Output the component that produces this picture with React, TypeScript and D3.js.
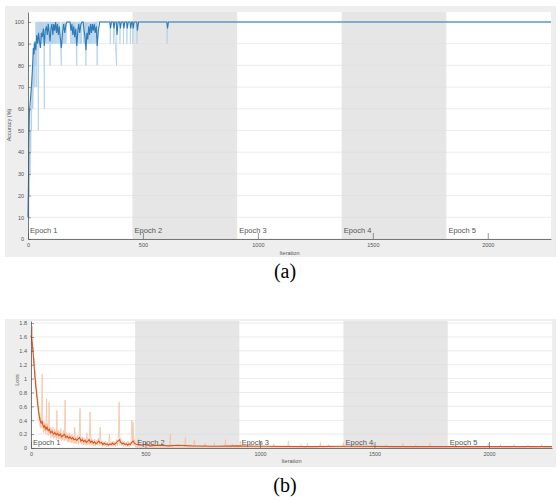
import React, { useEffect, useRef } from 'react';
import * as d3 from 'd3';

// Training progress: 5 epochs of 455 iterations each
const epochs = ['Epoch 1', 'Epoch 2', 'Epoch 3', 'Epoch 4', 'Epoch 5'];
const itersPerEpoch = 455;
const maxIter = 2275;
const iterTicks = [0, 500, 1000, 1500, 2000];
const accTicks = [0, 10, 20, 30, 40, 50, 60, 70, 80, 90, 100];
const lossTicks = [0, 0.2, 0.4, 0.6, 0.8, 1, 1.2, 1.4, 1.6, 1.8];

// mini-batch accuracy (%), [iteration, value]
const accRaw: [number, number][] = [
  [0, 10], [2, 20], [3, 10], [5, 30], [6, 20], [8, 40], [9, 30], [11, 50], [12, 40], [14, 60],
  [15, 50], [17, 70], [18, 60], [20, 80], [21, 60], [23, 70], [24, 90], [26, 70], [27, 80], [29, 90],
  [30, 70], [32, 90], [33, 80], [35, 100], [36, 90], [38, 70], [39, 100], [41, 90], [43, 100], [45, 50],
  [47, 100], [49, 90], [51, 100], [53, 90], [55, 100], [57, 90], [59, 100], [61, 90], [63, 100], [65, 90],
  [67, 100], [69, 90], [71, 60], [73, 100], [75, 90], [77, 100], [79, 90], [81, 100], [83, 90], [85, 100],
  [87, 90], [89, 100], [91, 90], [93, 100], [96, 80], [98, 100], [100, 90], [102, 100], [104, 90], [106, 100],
  [108, 90], [110, 100], [112, 90], [114, 100], [117, 90], [119, 100], [121, 90], [123, 100], [126, 90], [128, 100],
  [131, 90], [133, 100], [136, 90], [138, 100], [141, 90], [145, 80], [148, 100], [150, 90], [153, 100], [155, 90],
  [158, 100], [160, 90], [163, 100], [165, 90], [168, 100], [183, 100], [186, 90], [188, 100], [191, 90], [193, 100],
  [196, 90], [198, 100], [201, 90], [203, 100], [206, 90], [208, 100], [212, 80], [214, 100], [217, 90], [219, 100],
  [222, 90], [224, 100], [228, 90], [230, 100], [233, 90], [235, 100], [240, 100], [243, 90], [245, 100], [248, 90],
  [250, 100], [252, 80], [254, 100], [257, 90], [259, 100], [262, 90], [264, 100], [267, 90], [269, 100], [272, 90],
  [274, 100], [277, 90], [279, 100], [282, 90], [284, 100], [287, 90], [289, 100], [292, 90], [294, 100], [296, 90],
  [298, 100], [301, 80], [303, 100], [357, 100], [358, 90], [360, 100], [371, 100], [372, 90], [374, 100], [385, 80],
  [387, 100], [399, 100], [400, 90], [402, 100], [414, 100], [415, 90], [417, 100], [429, 100], [430, 90], [432, 100],
  [444, 100], [445, 90], [447, 100], [455, 100], [456, 90], [458, 100], [473, 100], [474, 90], [476, 100], [604, 100],
  [605, 90], [607, 100], [2275, 100],
];

// smoothed accuracy (%)
const accSmooth: [number, number][] = [
  [0, 10], [2, 25], [4, 45], [6, 58], [9, 62], [12, 66], [16, 72], [20, 80], [23, 88], [26, 85],
  [30, 91], [34, 87], [38, 94], [42, 90], [46, 95], [50, 91], [54, 88], [58, 95], [62, 93], [67, 97],
  [71, 89], [75, 96], [80, 98], [84, 94], [88, 99], [92, 95], [96, 91], [100, 97], [104, 99], [108, 94],
  [112, 99], [116, 96], [120, 100], [124, 95], [128, 99], [132, 94], [136, 98], [140, 93], [145, 88], [150, 95],
  [155, 99], [160, 95], [165, 99], [170, 100], [183, 100], [187, 96], [191, 99], [195, 94], [199, 98], [203, 93],
  [208, 97], [212, 89], [217, 96], [221, 99], [225, 95], [230, 99], [235, 100], [240, 100], [244, 96], [248, 93],
  [252, 87], [256, 95], [260, 92], [264, 98], [268, 94], [272, 99], [276, 95], [280, 99], [284, 96], [288, 99],
  [292, 95], [297, 98], [301, 89], [306, 96], [312, 100], [356, 100], [359, 97], [363, 100], [371, 100], [374, 97],
  [378, 100], [384, 100], [387, 94], [392, 100], [399, 100], [402, 97], [406, 100], [414, 100], [417, 97], [421, 100],
  [429, 100], [432, 97], [436, 100], [444, 100], [447, 97], [451, 100], [455, 100], [458, 97], [462, 100], [473, 100],
  [476, 96], [481, 100], [604, 100], [607, 97], [611, 100], [2275, 100],
];

// mini-batch loss, first epoch [iteration, value]
const lossRawEpoch1: [number, number][] = [
  [0, 1.6], [2, 1.72], [4, 1.5], [6, 1.76], [8, 1.38], [10, 1.45], [12, 1.2], [14, 1.3], [16, 1.0], [18, 1.12],
  [20, 0.85], [22, 0.98], [24, 0.72], [26, 0.85], [28, 0.6], [30, 0.7], [32, 0.5], [34, 0.6], [36, 0.38], [38, 0.5],
  [40, 0.3], [42, 0.45], [44, 0.28], [46, 0.42], [49, 1.07], [51, 0.3], [53, 0.4], [55, 0.22], [57, 0.38], [59, 0.25],
  [62, 0.35], [65, 0.2], [68, 0.71], [70, 0.25], [72, 0.35], [75, 0.18], [77, 0.3], [79, 0.66], [81, 0.2], [84, 0.3],
  [87, 0.15], [90, 0.28], [93, 0.16], [96, 0.3], [99, 0.14], [102, 0.27], [105, 0.15], [108, 0.25], [111, 0.12], [113, 0.54],
  [115, 0.15], [118, 0.26], [121, 0.12], [124, 0.24], [127, 0.13], [130, 0.28], [133, 0.1], [136, 0.22], [139, 0.12], [142, 0.25],
  [145, 0.1], [149, 0.69], [152, 0.12], [155, 0.22], [158, 0.09], [161, 0.2], [164, 0.08], [167, 0.22], [170, 0.09], [173, 0.18],
  [176, 0.07], [179, 0.2], [182, 0.08], [185, 0.17], [188, 0.06], [191, 0.3], [194, 0.07], [197, 0.16], [200, 0.06], [204, 0.18],
  [208, 0.05], [211, 0.2], [214, 0.57], [217, 0.07], [220, 0.15], [223, 0.05], [226, 0.16], [229, 0.04], [232, 0.14], [235, 0.05],
  [238, 0.13], [241, 0.04], [244, 0.22], [247, 0.05], [250, 0.14], [254, 0.04], [258, 0.52], [261, 0.05], [264, 0.14], [267, 0.04],
  [270, 0.12], [274, 0.03], [278, 0.13], [282, 0.03], [286, 0.11], [290, 0.04], [294, 0.14], [298, 0.03], [302, 0.3], [306, 0.04],
  [310, 0.1], [314, 0.02], [318, 0.09], [322, 0.03], [326, 0.1], [330, 0.02], [334, 0.08], [338, 0.02], [342, 0.2], [346, 0.03],
  [350, 0.09], [354, 0.02], [358, 0.1], [362, 0.03], [366, 0.09], [370, 0.02], [374, 0.12], [378, 0.03], [382, 0.2], [385, 0.66],
  [388, 0.05], [392, 0.14], [396, 0.03], [400, 0.1], [404, 0.02], [408, 0.09], [412, 0.02], [416, 0.08], [420, 0.02], [424, 0.1],
  [428, 0.02], [432, 0.08], [436, 0.03], [441, 0.4], [444, 0.05], [446, 0.37], [449, 0.03], [452, 0.12], [456, 0.02],
];

// later epochs: isolated loss spikes above a floor
const lossFloor = 0.01;
const lossSpikeIters = [
  470, 490, 520, 560, 608, 640, 674, 713, 760, 800, 849, 880, 914, 960, 1002, 1060, 1124, 1180,
  1207, 1264, 1300, 1364, 1438, 1495, 1550, 1624, 1680, 1742, 1843, 1900, 1997, 2050, 2110, 2170, 2230,
];
const lossSpikeValues = [
  0.14, 0.07, 0.09, 0.06, 0.2, 0.05, 0.15, 0.12, 0.07, 0.08, 0.12, 0.06, 0.1, 0.05, 0.09, 0.06, 0.1, 0.05,
  0.07, 0.08, 0.05, 0.08, 0.07, 0.08, 0.05, 0.07, 0.05, 0.07, 0.06, 0.05, 0.07, 0.05, 0.05, 0.04, 0.05,
];

// smoothed loss
const lossSmooth: [number, number][] = [
  [0, 1.62], [4, 1.55], [8, 1.42], [12, 1.25], [16, 1.08], [20, 0.92], [24, 0.8], [28, 0.68], [32, 0.56], [36, 0.46],
  [40, 0.4], [44, 0.36], [48, 0.38], [52, 0.33], [56, 0.3], [60, 0.32], [65, 0.27], [70, 0.3], [75, 0.25], [80, 0.27],
  [86, 0.22], [92, 0.24], [98, 0.2], [104, 0.22], [110, 0.19], [116, 0.21], [122, 0.18], [128, 0.2], [134, 0.16], [140, 0.18],
  [146, 0.2], [152, 0.15], [158, 0.17], [164, 0.14], [170, 0.16], [176, 0.13], [182, 0.15], [188, 0.12], [194, 0.13], [200, 0.11],
  [206, 0.13], [212, 0.15], [218, 0.1], [224, 0.12], [230, 0.09], [236, 0.11], [242, 0.08], [248, 0.1], [254, 0.12], [260, 0.08],
  [266, 0.1], [272, 0.07], [278, 0.09], [284, 0.06], [290, 0.08], [296, 0.1], [302, 0.07], [308, 0.08], [314, 0.05], [320, 0.07],
  [326, 0.05], [332, 0.06], [338, 0.04], [344, 0.06], [350, 0.05], [356, 0.07], [362, 0.05], [368, 0.06], [374, 0.08], [380, 0.1],
  [386, 0.12], [392, 0.08], [398, 0.06], [404, 0.07], [410, 0.05], [416, 0.06], [422, 0.04], [428, 0.06], [434, 0.05], [440, 0.08],
  [446, 0.1], [452, 0.07], [460, 0.05], [480, 0.04], [500, 0.05], [520, 0.03], [560, 0.04], [600, 0.03], [640, 0.04], [700, 0.03],
  [800, 0.025], [900, 0.03], [1000, 0.025], [1200, 0.02], [1400, 0.025], [1600, 0.02], [1800, 0.02], [2000, 0.02], [2275, 0.02],
];

function lossRawSeries(): [number, number][] {
  const pts: [number, number][] = [...lossRawEpoch1];
  lossSpikeIters.forEach((it, i) => {
    pts.push([it - 3, lossFloor], [it, lossSpikeValues[i]], [it + 3, lossFloor]);
  });
  pts.push([maxIter, lossFloor]);
  return pts;
}

function drawPanel(svg, cfg) {
  const { frame, plot, yDomain, yTicks, yFormat, yLabel, yLabelPos, raw, smooth, rawColor, smoothColor, epochDy, xLabelY, caption, captionY } = cfg;
  const g = svg.append('g');

  g.append('rect')
    .attr('x', frame.x).attr('y', frame.y)
    .attr('width', frame.w).attr('height', frame.h)
    .attr('fill', '#eeeeee');

  const x = d3.scaleLinear().domain([0, maxIter]).range([plot.left, plot.right]);
  const y = d3.scaleLinear().domain(yDomain).range([plot.bottom, plot.top]);

  // epoch bands
  g.append('g')
    .selectAll('rect')
    .data(epochs)
    .join('rect')
    .attr('x', (d, i) => x(i * itersPerEpoch))
    .attr('y', plot.top)
    .attr('width', x(itersPerEpoch) - x(0))
    .attr('height', plot.bottom - plot.top)
    .attr('fill', (d, i) => (i % 2 ? '#e6e6e6' : '#ffffff'));

  // horizontal grid
  g.append('g')
    .selectAll('line')
    .data(yTicks)
    .join('line')
    .attr('x1', plot.left).attr('x2', plot.right)
    .attr('y1', (d) => y(d)).attr('y2', (d) => y(d))
    .attr('stroke', '#dedede')
    .attr('stroke-width', 0.6);

  const line = d3.line().x((d) => x(d[0])).y((d) => y(d[1]));

  g.append('path')
    .datum(raw)
    .attr('d', line)
    .attr('fill', 'none')
    .attr('stroke', rawColor)
    .attr('stroke-width', 0.8);

  g.append('path')
    .datum(smooth)
    .attr('d', line)
    .attr('fill', 'none')
    .attr('stroke', smoothColor)
    .attr('stroke-width', 1.1);

  // epoch labels
  g.append('g')
    .selectAll('text')
    .data(epochs)
    .join('text')
    .attr('x', (d, i) => x(i * itersPerEpoch) + 2)
    .attr('y', plot.bottom - epochDy)
    .attr('font-family', 'Arial, Liberation Sans, sans-serif')
    .attr('font-size', 7.5)
    .attr('fill', '#555')
    .text((d) => d);

  // axes
  const xAxis = g.append('g')
    .attr('transform', `translate(0, ${plot.bottom})`)
    .call(d3.axisBottom(x).tickValues(iterTicks).tickFormat(d3.format('d')).tickSizeInner(-6).tickSizeOuter(0).tickPadding(4));
  const yAxis = g.append('g')
    .attr('transform', `translate(${plot.left}, 0)`)
    .call(d3.axisLeft(y).tickValues(yTicks).tickFormat(yFormat).tickSizeInner(-3).tickSizeOuter(0).tickPadding(4));

  [xAxis, yAxis].forEach((a) => {
    a.select('.domain').attr('stroke', '#555').attr('stroke-width', 0.8);
    a.selectAll('.tick line').attr('stroke', '#555').attr('stroke-width', 0.6);
    a.selectAll('.tick text')
      .attr('fill', '#555')
      .attr('font-size', 5.5)
      .attr('font-family', 'Arial, Liberation Sans, sans-serif');
  });

  g.append('text')
    .attr('x', (plot.left + plot.right) / 2)
    .attr('y', xLabelY)
    .attr('text-anchor', 'middle')
    .attr('font-family', 'Arial, Liberation Sans, sans-serif')
    .attr('font-size', 5.5)
    .attr('fill', '#555')
    .text('Iteration');

  g.append('text')
    .attr('transform', `translate(${yLabelPos[0]}, ${yLabelPos[1]}) rotate(-90)`)
    .attr('text-anchor', 'middle')
    .attr('font-family', 'Arial, Liberation Sans, sans-serif')
    .attr('font-size', 5.5)
    .attr('fill', '#555')
    .text(yLabel);

  svg.append('text')
    .attr('x', 285)
    .attr('y', captionY)
    .attr('text-anchor', 'middle')
    .attr('font-family', 'Liberation Serif, Times New Roman, serif')
    .attr('font-size', 20)
    .attr('fill', '#000')
    .text(caption);
}

export default function App() {
  const ref = useRef(null);

  useEffect(() => {
    document.body.style.margin = '0';
    const svg = d3.select(ref.current);

    drawPanel(svg, {
      frame: { x: 5, y: 6, w: 551, h: 251 },
      plot: { left: 28, right: 551, top: 12, bottom: 239 },
      yDomain: [0, 104.6],
      yTicks: accTicks,
      yFormat: d3.format('d'),
      yLabel: 'Accuracy (%)',
      yLabelPos: [11, 125],
      raw: accRaw,
      smooth: accSmooth,
      rawColor: '#b3d1ea',
      smoothColor: '#2f7bb8',
      epochDy: 6,
      xLabelY: 255,
      caption: '(a)',
      captionY: 278,
    });

    drawPanel(svg, {
      frame: { x: 5, y: 319, w: 551, h: 148 },
      plot: { left: 31, right: 552, top: 321, bottom: 448 },
      yDomain: [0, 1.83],
      yTicks: lossTicks,
      yFormat: (d) => String(Math.round(d * 10) / 10),
      yLabel: 'Loss',
      yLabelPos: [19, 380],
      raw: lossRawSeries(),
      smooth: lossSmooth,
      rawColor: '#f5c2a6',
      smoothColor: '#d9541c',
      epochDy: 3,
      xLabelY: 463,
      caption: '(b)',
      captionY: 492,
    });

    return () => {
      svg.selectAll('*').remove();
    };
  }, []);

  return <svg ref={ref} width={560} height={500} style={{ display: 'block' }} />;
}
